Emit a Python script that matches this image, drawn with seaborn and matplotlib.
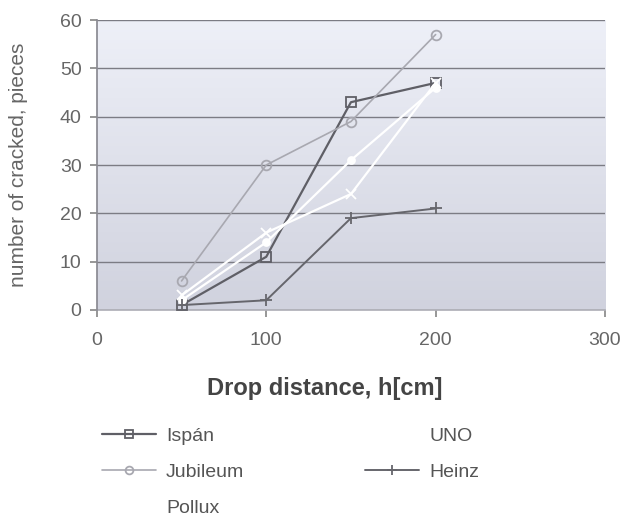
import numpy as np
import pandas as pd
import matplotlib
matplotlib.use("Agg")
import matplotlib.pyplot as plt
import seaborn as sns
from matplotlib.colors import LinearSegmentedColormap

# Data
drop_cm = [50, 100, 150, 200]
ispan = [1, 11, 43, 47]
jubileum = [6, 30, 39, 57]
pollux = [2, 14, 31, 46]
uno = [3, 16, 24, 47]
heinz = [1, 2, 19, 21]
x_ticks = [0, 100, 200, 300]
y_ticks = [0, 10, 20, 30, 40, 50, 60]

sns.set_theme(style="white")
plt.rcParams['font.family'] = ['Liberation Sans', 'DejaVu Sans']

fig = plt.figure(figsize=(6.25, 5.28), dpi=100)
ax = fig.add_axes([0.155, 0.413, 0.813, 0.549])

# gradient background
grad = np.linspace(0, 1, 256).reshape(-1, 1)
cmap = LinearSegmentedColormap.from_list("bg", ["#eef0f8", "#d0d2de"])
ax.imshow(grad, extent=[0, 1, 0, 1], transform=ax.transAxes, aspect='auto',
          cmap=cmap, zorder=0)

series = [
    ("Ispán", ispan, "#5f5f66", "s", 7, "none", 1.6),
    ("Jubileum", jubileum, "#a8a8b0", "o", 7, "none", 1.2),
    ("Pollux", pollux, "#ffffff", "o", 5, "#ffffff", 1.6),
    ("UNO", uno, "#ffffff", "x", 7, "none", 1.6),
    ("Heinz", heinz, "#66666c", "+", 9, "none", 1.4),
]
for name, vals, col, mk, ms, mfc, lw in series:
    df = pd.DataFrame({"x": drop_cm, "y": vals})
    sns.lineplot(data=df, x="x", y="y", ax=ax, color=col, marker=mk,
                 markersize=ms, markerfacecolor=mfc, markeredgecolor=col,
                 markeredgewidth=1.3, linewidth=lw, label=name, zorder=3)

handles, labels = ax.get_legend_handles_labels()
if ax.get_legend() is not None:
    ax.get_legend().remove()

ax.set_xlim(0, 300)
ax.set_ylim(0, 60)
ax.set_xticks(x_ticks)
ax.set_yticks(y_ticks)
ax.yaxis.grid(True, color="#7c7c84", linewidth=1.0, zorder=1)
ax.set_axisbelow(True)
ax.tick_params(axis='both', colors="#8a8a8a", labelcolor="#666666",
               labelsize=14, length=5, direction='out', bottom=True, left=True)
ax.tick_params(axis='x', pad=11)
ax.tick_params(axis='y', pad=6)
for s in ["top", "right"]:
    ax.spines[s].set_visible(False)
ax.spines["left"].set_color("#8a8a92")
ax.spines["bottom"].set_color("#b0b0b8")
ax.spines["left"].set_zorder(4)

ax.set_xlabel("Drop distance, h[cm]", fontsize=17, fontweight='bold',
              color="#444444")
ax.xaxis.set_label_coords(0.449, -0.232)
ax.set_ylabel("number of cracked, pieces", fontsize=15, color="#666666")
ax.yaxis.set_label_coords(-0.136, 0.5)

fig.legend(handles, labels, ncol=2, loc='upper left',
           bbox_to_anchor=(102 / 625, 1 - 427 / 528), bbox_transform=fig.transFigure,
           frameon=False, fontsize=14, labelcolor="#555555", handlelength=2.8,
           handletextpad=0.5, columnspacing=6.2, labelspacing=0.96,
           borderpad=0, borderaxespad=0, markerscale=0.8)

fig.savefig("out.png", dpi=100)
